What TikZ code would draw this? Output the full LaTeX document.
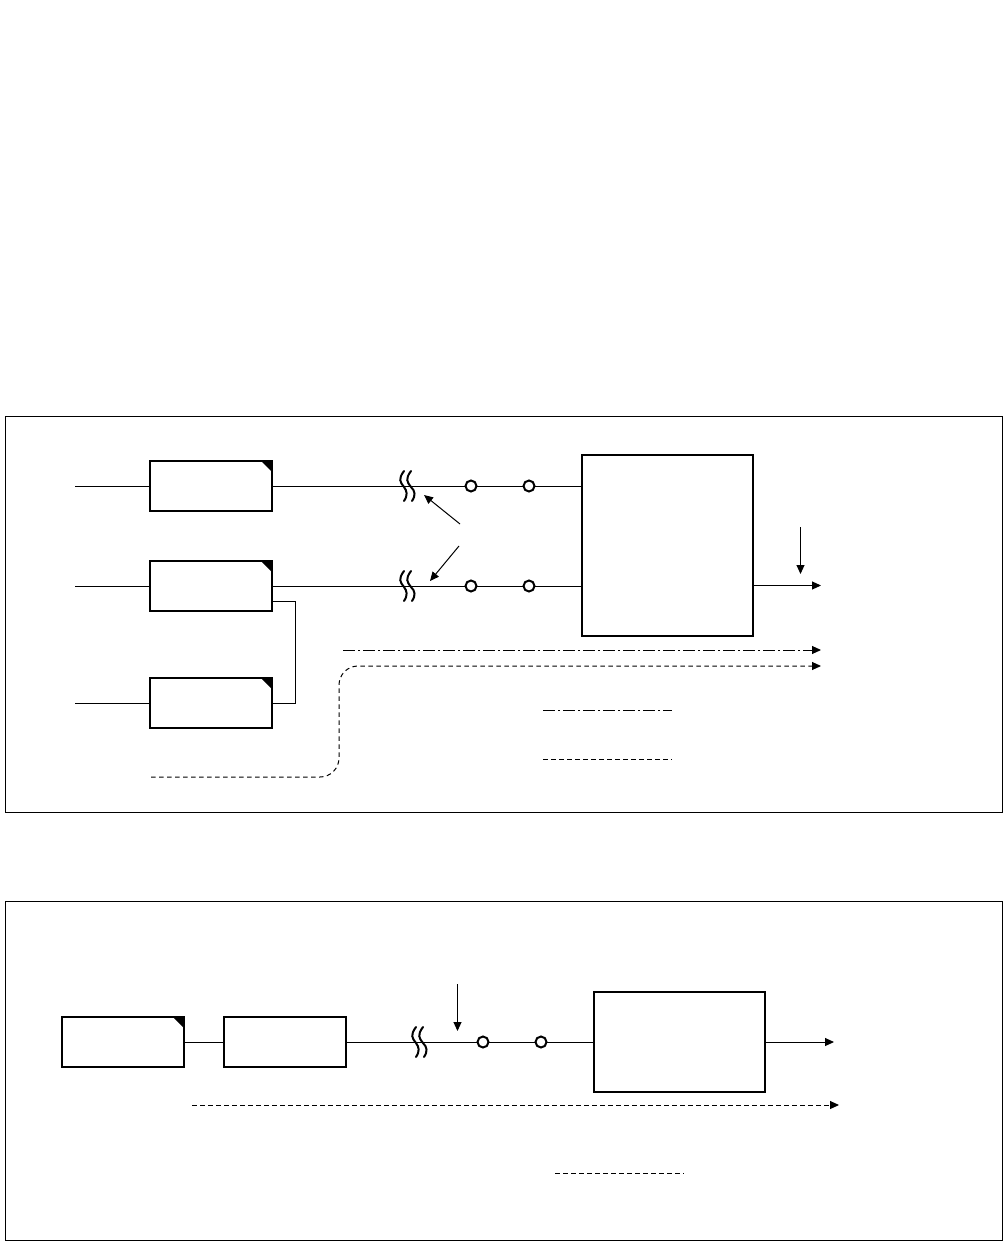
\documentclass[tikz,border=0pt]{standalone}
\usetikzlibrary{positioning,arrows.meta,calc}
\tikzset{
  framebox/.style={draw,line width=1pt},
  unitbox/.style={draw,line width=2pt,minimum width=122pt,minimum height=50pt,inner sep=0pt,outer sep=0pt},
  bigbox/.style={draw,line width=2pt,minimum width=171pt,inner sep=0pt,outer sep=0pt},
  portdot/.style={circle,draw,line width=2pt,fill=white,minimum size=11pt,inner sep=0pt,outer sep=0pt},
  wire/.style={line width=1pt},
  flow/.style={line width=1pt,-{Triangle[length=9pt,width=8pt]}},
  dashdotline/.style={line width=1pt,dash pattern=on 12pt off 3pt on 2pt off 3pt},
  dashline/.style={line width=1pt,dash pattern=on 4.5pt off 3.5pt},
  breakmark/.pic={
    \draw[line width=2pt,line cap=round] (-3,-15) .. controls (-9,-7) and (-7,-4) .. (-3,1)
      .. controls (0,5) and (1,9) .. (-3,15);
    \draw[line width=2pt,line cap=round] (4,-15) .. controls (-2,-7) and (0,-4) .. (4,1)
      .. controls (8,5) and (9,9) .. (5,15);
  }
}
\begin{document}
\begin{tikzpicture}[x=1pt,y=-1pt]
  \useasboundingbox (0,0) rectangle (1008,1241);
  % upper frame
  \draw[framebox] (5.5,416.5) rectangle (1002.5,812.5);
  \node[unitbox] (src1) at (211,486) {};
  \node[unitbox] (src2) at (211,586) {};
  \node[unitbox] (src3) at (211,703) {};
  \node[bigbox,minimum height=181pt] (mux) at (667.5,545.5) {};
  \foreach \n in {src1,src2,src3}
    \fill (\n.north east) -- ++(-11,0) -- ++(11,11) -- cycle;
  \coordinate (in1) at (75,486);
  \coordinate (in2) at (75,586);
  \coordinate (in3) at (75,703);
  \node[portdot] (p1a) at (471,486) {};
  \node[portdot] (p1b) at (529,486) {};
  \node[portdot] (p2a) at (471,586) {};
  \node[portdot] (p2b) at (529,586) {};
  \draw[wire] (in1) -- (src1);
  \draw[wire] (in2) -- (src2);
  \draw[wire] (in3) -- (src3);
  \draw[wire] (src1.east) -- (p1a) -- (p1b) -- (mux.west |- p1b);
  \draw[wire] (src2.east) -- (p2a) -- (p2b) -- (mux.west |- p2b);
  \coordinate (tap2) at (src2.south east |- 0,601.5);
  \coordinate (tap3) at (src3.east);
  \draw[wire] (tap2) -- (295.5,601.5) |- (tap3);
  \pic at (407,486) {breakmark};
  \pic at (407,586) {breakmark};
  \coordinate (cut1from) at (460,524);
  \coordinate (cut1to) at (424,495);
  \coordinate (cut2from) at (459,546);
  \coordinate (cut2to) at (430,581);
  \draw[flow] (cut1from) -- (cut1to);
  \draw[flow] (cut2from) -- (cut2to);
  \coordinate (out) at (821,585.5);
  \coordinate (ctrlfrom) at (800.5,527);
  \coordinate (ctrlto) at (800.5,574);
  \draw[flow] (mux.east |- out) -- (out);
  \draw[flow] (ctrlfrom) -- (ctrlto);
  \coordinate (ddfrom) at (343,650);
  \coordinate (ddto) at (821,650);
  \coordinate (dsfrom) at (151,777);
  \coordinate (dsto) at (821,666);
  \draw[dashdotline] (ddfrom) -- (806,650);
  \draw[flow] (806,650) -- (ddto);
  \draw[dashline,rounded corners=19pt] (dsfrom) -| (339,666) -- (814,666);
  \draw[flow] (813,666) -- (dsto);
  % upper legend
  \coordinate (lg1a) at (543,710);
  \coordinate (lg1b) at (672,710);
  \coordinate (lg2a) at (543,759);
  \coordinate (lg2b) at (672,759);
  \draw[dashdotline] (lg1a) -- (lg1b);
  \draw[dashline] (lg2a) -- (lg2b);
  % lower frame
  \draw[framebox] (5.5,901.5) rectangle (1002.5,1240.5);
  \node[unitbox] (conv) at (123,1042) {};
  \node[unitbox] (proc) at (285,1042) {};
  \node[bigbox,minimum height=100pt] (dec) at (679.5,1042) {};
  \fill (conv.north east) -- ++(-11,0) -- ++(11,11) -- cycle;
  \node[portdot] (p3a) at (483,1042) {};
  \node[portdot] (p3b) at (541,1042) {};
  \draw[wire] (conv) -- (proc);
  \draw[wire] (proc) -- (p3a) -- (p3b) -- (dec);
  \pic at (419,1042) {breakmark};
  \coordinate (feedfrom) at (457.5,984);
  \coordinate (feedto) at (457.5,1031);
  \coordinate (decout) at (834,1042);
  \draw[flow] (feedfrom) -- (feedto);
  \draw[flow] (dec) -- (decout);
  \coordinate (lowfrom) at (192,1105);
  \coordinate (lowto) at (839,1105);
  \draw[dashline] (lowfrom) -- (832,1105);
  \draw[flow] (831,1105) -- (lowto);
  \coordinate (lg3a) at (555,1173);
  \coordinate (lg3b) at (684,1173);
  \draw[dashline] (lg3a) -- (lg3b);
\end{tikzpicture}
\end{document}
